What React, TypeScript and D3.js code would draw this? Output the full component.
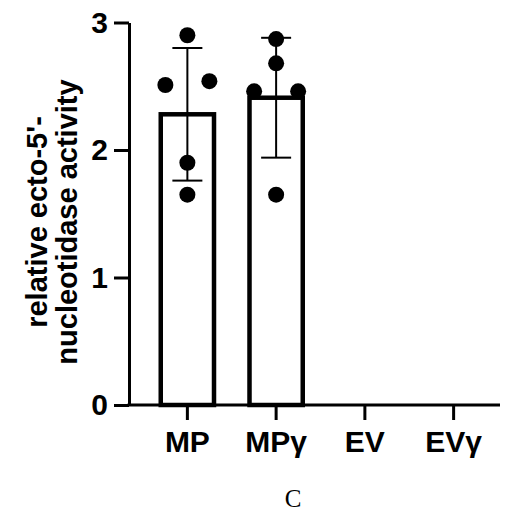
// @ts-nocheck
import React, { useEffect, useRef } from "react";
import { select, scaleBand, scaleLinear, axisLeft, axisBottom } from "d3";

const categories = ["MP", "MPγ", "EV", "EVγ"];
const means = [2.28, 2.41, null, null];
const sds = [0.52, 0.47, null, null];
const points = [
  [2.9, 2.54, 2.51, 1.9, 1.65],
  [2.87, 2.68, 2.46, 2.46, 1.65],
  [],
  [],
];
// horizontal slot of each replicate dot (-1 left, 0 centre, 1 right)
const slots = [
  [0, 1, -1, 0, 0],
  [0, 0, -1, 1, 0],
  [],
  [],
];
const yTicks = [0, 1, 2, 3];

const W = 507;
const H = 514;
const FONT = "'Liberation Sans', Arial, sans-serif";

export default function App() {
  const ref = useRef(null);

  useEffect(() => {
    document.body.style.margin = "0";
    const svg = select(ref.current);
    svg.selectAll("*").remove();

    const x0 = 129;
    const y = scaleLinear().domain([0, 3]).range([405, 22.5]);
    const x = scaleBand()
      .domain(categories)
      .range([143, 498])
      .paddingInner(0.4)
      .paddingOuter(0.2);

    // bars
    const bars = categories
      .map((c, i) => ({ c, m: means[i], sd: sds[i], pts: points[i], sl: slots[i] }))
      .filter((d) => d.m != null);

    svg
      .append("g")
      .selectAll("rect")
      .data(bars)
      .join("rect")
      .attr("x", (d) => x(d.c))
      .attr("width", x.bandwidth())
      .attr("y", (d) => y(d.m))
      .attr("height", (d) => y(0) - y(d.m))
      .attr("fill", "white")
      .attr("stroke", "black")
      .attr("stroke-width", 4.5);

    // dots
    const dots = [];
    bars.forEach((b) =>
      b.pts.forEach((v, j) => dots.push({ c: b.c, v, s: b.sl[j] }))
    );
    svg
      .append("g")
      .selectAll("circle")
      .data(dots)
      .join("circle")
      .attr("cx", (d) => x(d.c) + x.bandwidth() / 2 + d.s * 22)
      .attr("cy", (d) => y(d.v))
      .attr("r", 8)
      .attr("fill", "black");

    // error bars
    const eb = svg.append("g").attr("stroke", "black").attr("stroke-width", 2);
    bars.forEach((b) => {
      const cx = x(b.c) + x.bandwidth() / 2;
      eb.append("line")
        .attr("x1", cx)
        .attr("x2", cx)
        .attr("y1", y(b.m + b.sd))
        .attr("y2", y(b.m - b.sd));
      [b.m + b.sd, b.m - b.sd].forEach((v) =>
        eb
          .append("line")
          .attr("x1", cx - 15)
          .attr("x2", cx + 15)
          .attr("y1", y(v))
          .attr("y2", y(v))
      );
    });

    // y axis
    const gy = svg
      .append("g")
      .attr("transform", `translate(${x0},0)`)
      .call(axisLeft(y).tickValues(yTicks).tickSize(15).tickSizeOuter(0).tickPadding(6).tickFormat((d) => d));
    gy.select(".domain").attr("stroke-width", 3);
    gy.selectAll(".tick line").attr("stroke-width", 3);
    gy.selectAll("text")
      .attr("font-family", FONT)
      .attr("font-weight", "bold")
      .attr("font-size", 30)
      .attr("fill", "black");

    // x axis
    const gx = svg
      .append("g")
      .attr("transform", `translate(0,${y(0)})`)
      .call(axisBottom(x).tickSize(15).tickSizeOuter(0).tickPadding(11));
    gx.select(".domain").remove();
    gx.append("line")
      .attr("x1", x0 - 1.5)
      .attr("x2", 500)
      .attr("stroke", "black")
      .attr("stroke-width", 3);
    gx.selectAll(".tick line").attr("stroke-width", 3);
    gx.selectAll("text")
      .attr("font-family", FONT)
      .attr("font-weight", "bold")
      .attr("font-size", 30)
      .attr("fill", "black");

    // y title
    const title = svg
      .append("text")
      .attr("transform", "translate(0,222) rotate(-90)")
      .attr("text-anchor", "middle")
      .attr("font-family", FONT)
      .attr("font-weight", "bold")
      .attr("font-size", 29)
      .attr("fill", "black");
    title.append("tspan").attr("x", 0).attr("y", 47).text("relative ecto-5'-");
    title.append("tspan").attr("x", 0).attr("y", 77).text("nucleotidase activity");

    // caption
    svg
      .append("text")
      .attr("x", 293)
      .attr("y", 507)
      .attr("text-anchor", "middle")
      .attr("font-family", "'Liberation Serif', 'Times New Roman', serif")
      .attr("font-size", 25)
      .attr("fill", "black")
      .text("C");
  }, []);

  return <svg ref={ref} width={W} height={H} style={{ display: "block", background: "white" }} />;
}
